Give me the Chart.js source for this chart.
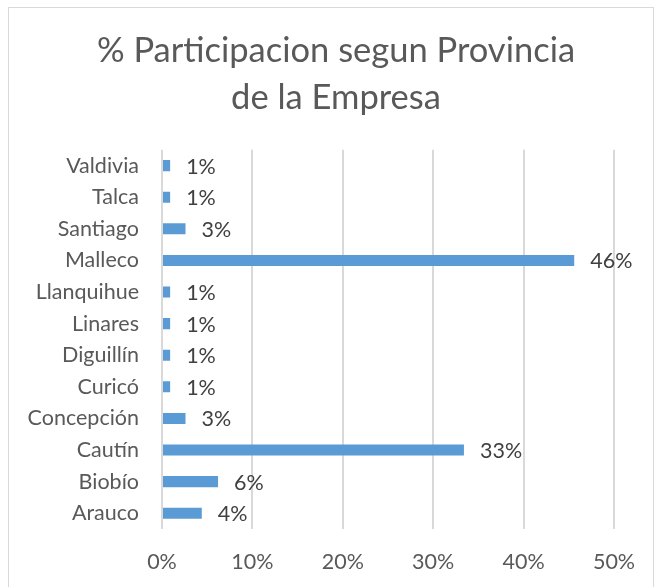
<!DOCTYPE html>
<html>
<head>
<meta charset="utf-8">
<script src="https://cdn.jsdelivr.net/npm/chart.js@4/dist/chart.umd.min.js"></script>
<style>
    body { margin: 0; background: #fff; }
    #wrap { position: relative; width: 664px; height: 587px; overflow: hidden; }
    #frame { position: absolute; left: 8px; top: 7px; width: 644px; height: 620px; border: 1px solid #d9d9d9; }
    #myChart { position: absolute; left: 0; top: 0; }
</style>
</head>
<body>
<div id="wrap">
    <div id="frame"></div>
    <canvas id="myChart" width="664" height="587"></canvas>
</div>
<script>
const provincias = ['Valdivia', 'Talca', 'Santiago', 'Malleco', 'Llanquihue', 'Linares', 'Diguillín', 'Curicó', 'Concepción', 'Cautín', 'Biobío', 'Arauco'];
const participacion = [0.9, 0.9, 2.6, 45.6, 0.9, 0.9, 0.9, 0.9, 2.6, 33.4, 6.2, 4.4];
const xTicks = [0, 10, 20, 30, 40, 50];

const fontName = 'Lato, "Open Sans", sans-serif';

// etiquetas de datos al final de cada barra
const dataLabels = {
    id: 'dataLabels',
    afterDatasetsDraw(chart) {
        const ctx = chart.ctx;
        const meta = chart.getDatasetMeta(0);
        ctx.save();
        ctx.font = '21.5px ' + fontName;
        ctx.fillStyle = '#404040';
        ctx.textAlign = 'left';
        ctx.textBaseline = 'middle';
        meta.data.forEach(function (bar, i) {
            ctx.fillText(Math.round(participacion[i]) + '%', bar.x + 16, bar.y + 1);
        });
        ctx.restore();
    }
};

renderChart();

function renderChart() {
    const data = {
        labels: provincias,
        datasets: [{
            data: participacion,
            backgroundColor: '#5B9BD5',
            categoryPercentage: 0.35,
            barPercentage: 1
        }]
    };
    const config = {
        type: 'bar',
        data: data,
        plugins: [dataLabels],
        options: {
            indexAxis: 'y',
            responsive: false,
            animation: false,
            layout: {
                padding: { left: 8, right: 0, top: 0, bottom: 0 }
            },
            plugins: {
                title: {
                    display: true,
                    text: ['% Participacion segun Provincia', 'de la Empresa'],
                    color: '#595959',
                    font: { family: fontName, size: 34.5, weight: 'normal', lineHeight: 1.36 },
                    padding: { top: 27, bottom: 29 }
                },
                legend: { display: false },
                tooltip: { enabled: false }
            },
            scales: {
                x: {
                    min: 0,
                    max: 50,
                    afterBuildTicks: function (scale) {
                        scale.ticks = xTicks.map(v => ({ value: v }));
                    },
                    afterFit: function (scale) { scale.height = 58; },
                    grid: { color: '#d9d9d9', lineWidth: 2, drawTicks: false },
                    border: { display: false },
                    ticks: {
                        color: '#595959',
                        font: { family: fontName, size: 21.5 },
                        padding: 20,
                        callback: v => v + '%'
                    }
                },
                y: {
                    afterFit: function (scale) { scale.width = 154; },
                    grid: { display: false },
                    border: { display: false },
                    ticks: {
                        color: '#595959',
                        font: { family: fontName, size: 21.5 },
                        padding: 15
                    }
                },
                // eje vacío a la derecha, solo reserva el margen
                margen: {
                    type: 'linear',
                    position: 'right',
                    afterFit: function (scale) { scale.width = 50; },
                    grid: { display: false },
                    border: { display: false },
                    ticks: { display: false }
                }
            }
        }
    };
    var myChart = new Chart(document.getElementById('myChart'), config);
}
</script>
</body>
</html>
